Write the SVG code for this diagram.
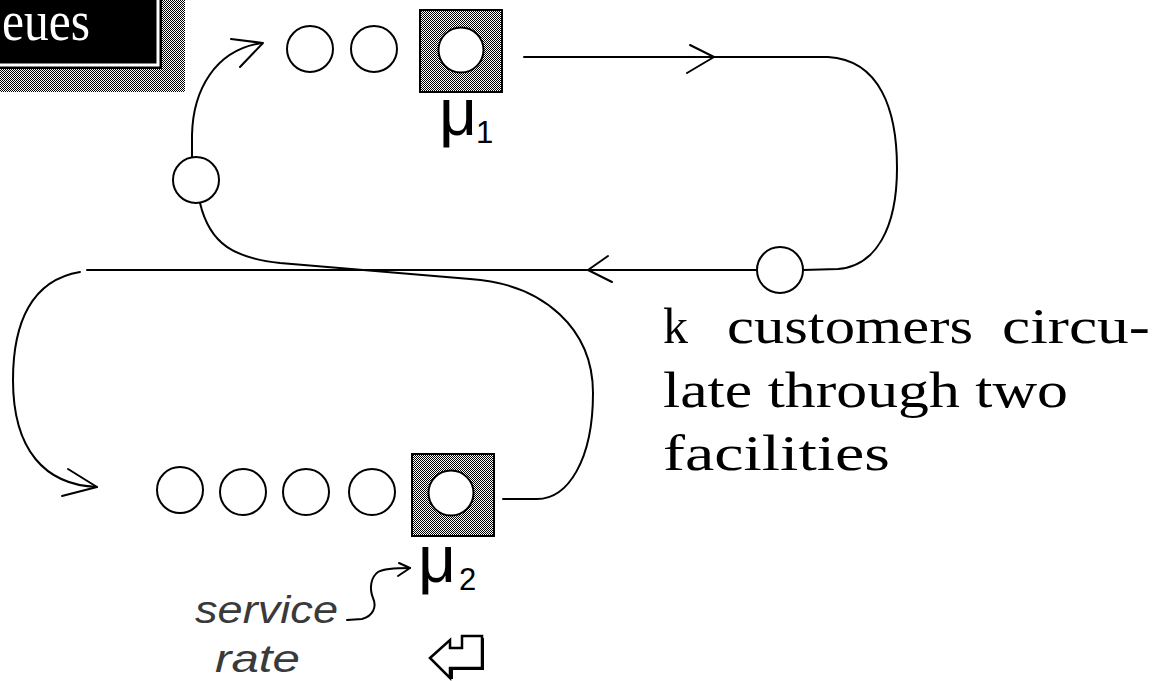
<svg xmlns="http://www.w3.org/2000/svg" width="1154" height="681" viewBox="0 0 1154 681">
  <defs>
    <pattern id="dots" width="2" height="2" patternUnits="userSpaceOnUse">
      <rect width="2" height="2" fill="#ffffff"/>
      <rect x="0" y="0" width="1" height="1" fill="#000000"/>
      <rect x="1" y="1" width="1" height="1" fill="#000000"/>
    </pattern>
    <style>
      .ln { fill: none; stroke: #000; stroke-width: 2; stroke-linecap: round; stroke-linejoin: round; }
      .cust { fill: #fff; stroke: #000; stroke-width: 2; }
      .srv { fill: url(#dots); stroke: #000; stroke-width: 2; }
      .mu { font-family: "Liberation Sans", Arial, sans-serif; font-size: 66px; fill: #000; }
      .sub { font-family: "Liberation Sans", Arial, sans-serif; font-size: 31px; fill: #000; }
      .note { font-family: "Liberation Serif", "Times New Roman", serif; font-size: 50px; fill: #000; }
      .ital { font-family: "Liberation Sans", Arial, sans-serif; font-style: italic; font-size: 38px; fill: #3a3a3a; }
      .title { font-family: "Liberation Serif", "Times New Roman", serif; font-size: 56px; fill: #fff; }
    </style>
  </defs>
  <rect width="1154" height="681" fill="#ffffff"/>

  <g id="title">
    <rect x="-10" y="-10" width="195" height="102" fill="url(#dots)"/>
    <rect x="-10" y="-10" width="172" height="79" fill="#000"/>
    <path d="M -10 65 H 158 V -10" fill="none" stroke="#fff" stroke-width="3"/>
    <text class="title" x="2" y="40" textLength="88" lengthAdjust="spacingAndGlyphs">eues</text>
  </g>

  <g id="connectors">
    <path class="ln" d="M 524 57 L 828 57 C 880 60, 897 110, 897 168 C 897 228, 876 266, 838 269 L 803 270"/>
    <path class="ln" d="M 690 45 L 714 57 L 687 73"/>
    <path class="ln" d="M 757 270 L 87 270"/>
    <path class="ln" d="M 608 256 L 588 270 L 612 282"/>
    <path class="ln" d="M 80 272 C 32 280, 13 322, 13 380 C 13 450, 45 485, 97 487"/>
    <path class="ln" d="M 68 469 L 97 487 L 62 496"/>
    <path class="ln" d="M 200 203 C 210 245, 235 258, 280 263 L 470 279 C 545 284, 593 330, 593 393 C 593 460, 568 499, 537 499 L 503 499"/>
    <path class="ln" d="M 192 157 L 192 135 C 193 90, 215 50, 262 43"/>
    <path class="ln" d="M 231 39 L 263 43 L 240 67"/>
    <path class="ln" d="M 347 620 L 362 619 C 373 616, 377 607, 373 598 C 369 588, 371 577, 378 572 C 383 569, 392 568, 410 568"/>
    <path class="ln" d="M 399 563 L 410 568 L 398 576"/>
  </g>

  <g id="queue1">
    <circle class="cust" cx="310" cy="49" r="23"/>
    <circle class="cust" cx="374" cy="49" r="23"/>
  </g>
  <g id="server1">
    <rect class="srv" x="420" y="10" width="82" height="82"/>
    <circle class="cust" cx="461" cy="50" r="22.5"/>
    <text class="mu" x="439" y="135">μ</text>
    <text class="sub" x="476" y="143">1</text>
  </g>

  <g id="customer-left">
    <circle class="cust" cx="196" cy="180" r="23"/>
  </g>
  <g id="customer-right">
    <circle class="cust" cx="780" cy="270" r="23"/>
  </g>

  <g id="queue2">
    <circle class="cust" cx="180" cy="490" r="23"/>
    <circle class="cust" cx="243" cy="492" r="23"/>
    <circle class="cust" cx="306" cy="492" r="23"/>
    <circle class="cust" cx="372" cy="492" r="23"/>
  </g>
  <g id="server2">
    <rect class="srv" x="412" y="454" width="82" height="82"/>
    <circle class="cust" cx="451" cy="493" r="22.5"/>
    <text class="mu" x="418" y="582">μ</text>
    <text class="sub" x="459" y="590">2</text>
  </g>

  <g id="service-label">
    <text class="ital" x="195" y="623" textLength="143" lengthAdjust="spacingAndGlyphs">service</text>
    <text class="ital" x="215" y="672" textLength="85" lengthAdjust="spacingAndGlyphs">rate</text>
  </g>

  <g id="return-icon">
    <polygon points="430,658 450,640 450,648 462,648 462,636 482,636 482,668 450,668 450,678" fill="#fff" stroke="#000" stroke-width="2.5" stroke-linejoin="miter"/>
    <path d="M 483 638 V 669 H 452 V 679" fill="none" stroke="#000" stroke-width="2"/>
  </g>

  <g id="description">
    <text class="note" x="663" y="343">k</text>
    <text class="note" x="727" y="343" textLength="246" lengthAdjust="spacingAndGlyphs">customers</text>
    <text class="note" x="1002" y="343" textLength="148" lengthAdjust="spacingAndGlyphs">circu-</text>
    <text class="note" x="663" y="407" textLength="405" lengthAdjust="spacingAndGlyphs">late through two</text>
    <text class="note" x="663" y="470" textLength="227" lengthAdjust="spacingAndGlyphs">facilities</text>
  </g>
</svg>
